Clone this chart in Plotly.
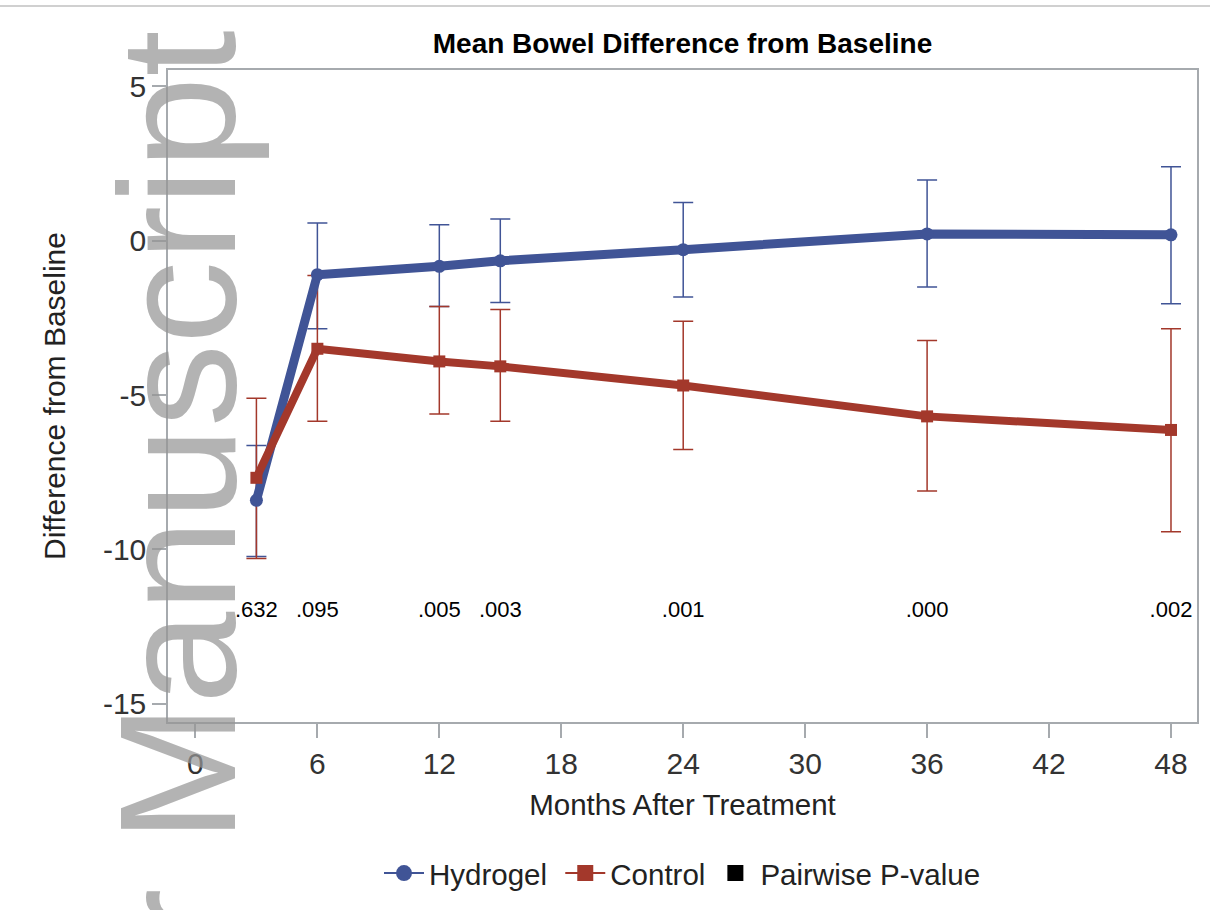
import plotly.graph_objects as go

months = [3, 6, 12, 15, 24, 36, 48]

hydrogel_mean = [-8.41, -1.10, -0.83, -0.65, -0.29, 0.22, 0.19]
hydrogel_upper = [-6.63, 0.57, 0.52, 0.70, 1.24, 1.97, 2.40]
hydrogel_lower = [-10.23, -2.85, -2.13, -2.00, -1.82, -1.50, -2.04]

control_mean = [-7.68, -3.50, -3.91, -4.07, -4.69, -5.69, -6.13]
control_upper = [-5.10, -1.13, -2.13, -2.23, -2.61, -3.23, -2.85]
control_lower = [-10.29, -5.85, -5.61, -5.85, -6.76, -8.11, -9.43]

p_values = [".632", ".095", ".005", ".003", ".001", ".000", ".002"]
p_label_y = -12

x_ticks = [0, 6, 12, 18, 24, 30, 36, 42, 48]
y_ticks = [-15, -10, -5, 0, 5]
y_tick_text = ["-15", "-10", "-5", "0", "5"]

BLUE = "rgb(64,84,150)"
RED = "rgb(163,56,43)"
FONT = "Liberation Sans, Arial, sans-serif"

fig = go.Figure()

def err(mean, up, lo):
    return ([u - m for u, m in zip(up, mean)], [m - l for m, l in zip(mean, lo)])

hp, hm = err(hydrogel_mean, hydrogel_upper, hydrogel_lower)
cp, cm = err(control_mean, control_upper, control_lower)

# error bars first
fig.add_trace(go.Scatter(x=months, y=hydrogel_mean, mode="markers",
                         marker=dict(size=1, opacity=0), showlegend=False, hoverinfo="skip",
                         error_y=dict(type="data", array=hp, arrayminus=hm, color=BLUE,
                                      thickness=1.5, width=10)))
fig.add_trace(go.Scatter(x=months, y=control_mean, mode="markers",
                         marker=dict(size=1, opacity=0), showlegend=False, hoverinfo="skip",
                         error_y=dict(type="data", array=cp, arrayminus=cm, color=RED,
                                      thickness=1.5, width=10)))
# lines
fig.add_trace(go.Scatter(x=months, y=hydrogel_mean, mode="lines+markers", showlegend=False,
                         line=dict(color=BLUE, width=9),
                         marker=dict(symbol="circle", size=13, color=BLUE)))
fig.add_trace(go.Scatter(x=months, y=control_mean, mode="lines+markers", showlegend=False,
                         line=dict(color=RED, width=8),
                         marker=dict(symbol="square", size=12, color=RED)))
# p-values
fig.add_trace(go.Scatter(x=months, y=[p_label_y] * len(months), mode="text", text=p_values,
                         textposition="middle center", showlegend=False, cliponaxis=False,
                         textfont=dict(family=FONT, size=22, color="black")))
# legend entries
fig.add_trace(go.Scatter(x=[None], y=[None], mode="lines+markers", name="Hydrogel ",
                         line=dict(color=BLUE, width=2), marker=dict(symbol="circle", size=20, color=BLUE)))
fig.add_trace(go.Scatter(x=[None], y=[None], mode="lines+markers", name="Control",
                         line=dict(color=RED, width=2), marker=dict(symbol="square", size=20, color=RED)))
fig.add_trace(go.Scatter(x=[None], y=[None], mode="markers", name="Pairwise P-value",
                         marker=dict(symbol="square", size=17, color="black")))

axis_common = dict(showline=True, linecolor="#a6aaae", linewidth=1.5, mirror=True,
                   showgrid=False, zeroline=False, ticks="outside", ticklen=14,
                   tickcolor="#a6aaae", tickwidth=1.5,
                   tickfont=dict(family=FONT, size=30, color="#333333"))

fig.update_layout(
    width=1210, height=910,
    margin=dict(l=168, r=13, t=70, b=187),
    paper_bgcolor="white", plot_bgcolor="white",
    title=dict(text="<b>Mean Bowel Difference from Baseline</b>", x=0.5, xanchor="center",
               xref="paper", y=1 - 43 / 910, yanchor="middle",
               font=dict(family=FONT, size=28, color="black")),
    xaxis=dict(range=[-1.35, 49.28], tickvals=x_ticks,
               title=dict(text="Months After Treatment", standoff=16,
                          font=dict(family=FONT, size=29.5, color="#222222")),
               **axis_common),
    yaxis=dict(range=[-15.59, 5.53], tickvals=y_ticks, ticktext=y_tick_text,
               title=dict(text="Difference from Baseline", standoff=28,
                          font=dict(family=FONT, size=30, color="#222222")),
               **axis_common),
    legend=dict(orientation="h", x=0.5, xanchor="center", y=(722.7 - 873) / 652.7, yanchor="middle",
                font=dict(family=FONT, size=29.5, color="#222222"), itemwidth=40),
    showlegend=True,
)

# top page rule
fig.add_shape(type="line", xref="paper", yref="paper", x0=-0.2, x1=1.02,
              y0=(722.7 - 6) / 652.7, y1=(722.7 - 6) / 652.7,
              line=dict(color="#d0d0d0", width=2), layer="below")

# watermark
fig.add_annotation(text="Author Manuscript", textangle=-90, xref="paper", yref="paper",
                   x=(178 - 168) / 1029, y=(722.7 - 29) / 652.7, xanchor="center", yanchor="top",
                   showarrow=False,
                   font=dict(family=FONT, size=166, color="rgba(150,150,150,0.72)"))

fig.write_html("out.html", config={"displayModeBar": False},
               post_script="document.body.style.margin='0px';document.body.style.overflow='hidden';")
